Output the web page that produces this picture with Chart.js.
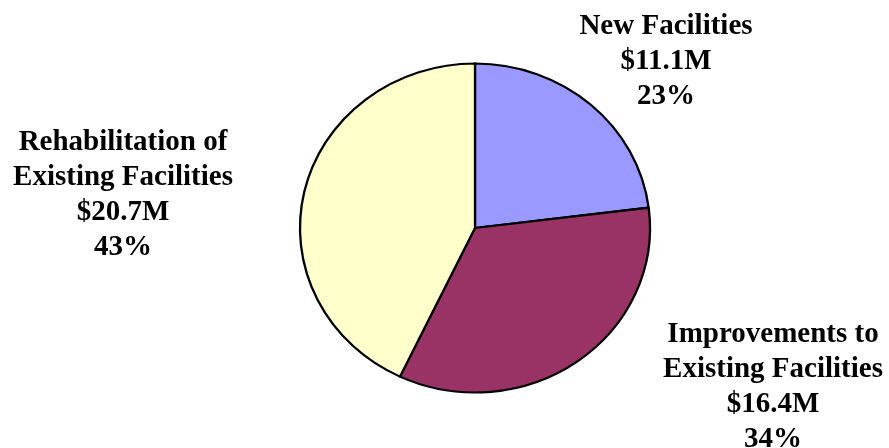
<!DOCTYPE html>
<html>
<head>
<meta charset="utf-8">
<script src="https://cdn.jsdelivr.net/npm/chart.js@4/dist/chart.umd.min.js"></script>
<style>
html,body{margin:0;padding:0;background:#fff;}
#wrap{width:889px;height:448px;position:relative;}
</style>
</head>
<body>
<div id="wrap"><canvas id="c" width="889" height="448"></canvas></div>
<script>
// ---- data ----
const categories = [
  ["New Facilities"],
  ["Improvements to", "Existing Facilities"],
  ["Rehabilitation of", "Existing Facilities"]
];
const amounts = [11.1, 16.4, 20.7];           // $ millions
const amountLabels = ["$11.1M", "$16.4M", "$20.7M"];
const percentLabels = ["23%", "34%", "43%"];

// ---- styling / layout (not data) ----
const colors = ["#9999FF", "#993366", "#FFFFCC"];
const labelAnchors = [
  {x: 666, y: 34},
  {x: 773, y: 342},
  {x: 123, y: 150}
];
const lineGap = 35;
const yScale = 164.5 / 175;

const ellipsePlugin = {
  id: 'ellipse',
  beforeDatasetsDraw(chart) {
    const meta = chart.getDatasetMeta(0);
    const arc = meta.data[0];
    const ctx = chart.ctx;
    ctx.save();
    ctx.translate(arc.x, arc.y);
    ctx.scale(1, yScale);
    ctx.translate(-arc.x, -arc.y);
  },
  afterDatasetsDraw(chart) {
    chart.ctx.restore();
  }
};

const labelPlugin = {
  id: 'sliceLabels',
  afterDraw(chart) {
    const ctx = chart.ctx;
    ctx.save();
    ctx.fillStyle = '#000';
    ctx.font = 'bold 29px "Liberation Serif", "Times New Roman", serif';
    ctx.textAlign = 'center';
    ctx.textBaseline = 'alphabetic';
    categories.forEach((cat, i) => {
      const lines = [...cat, amountLabels[i], percentLabels[i]];
      const a = labelAnchors[i];
      lines.forEach((t, j) => ctx.fillText(t, a.x, a.y + j * lineGap));
    });
    ctx.restore();
  }
};

new Chart(document.getElementById('c'), {
  type: 'pie',
  data: {
    labels: categories.map(c => c.join(' ')),
    datasets: [{
      data: amounts,
      backgroundColor: colors,
      borderColor: '#000',
      borderWidth: 2.3,
      borderAlign: 'center',
      borderJoinStyle: 'miter'
    }]
  },
  options: {
    responsive: false,
    animation: false,
    radius: 175,
    rotation: 0,
    layout: { padding: { left: 300, right: 239, top: 53, bottom: 45 } },
    plugins: {
      legend: { display: false },
      tooltip: { enabled: false }
    }
  },
  plugins: [ellipsePlugin, labelPlugin]
});
</script>
</body>
</html>
